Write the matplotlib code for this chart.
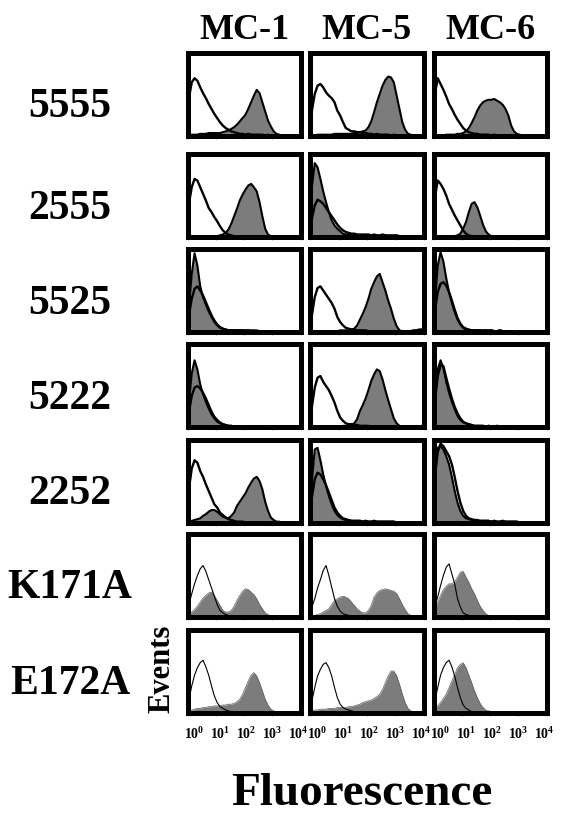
import matplotlib
matplotlib.use("Agg")
import matplotlib.pyplot as plt
import matplotlib.ticker as mticker
from matplotlib.transforms import ScaledTranslation
import numpy as np

# --- Data ---
# Histogram heights in % of the panel height, 40 bins of 0.1 decade (10^0 .. 10^4)
mutants = ['5555', '2555', '5525', '5222', '2252', 'K171A', 'E172A']
antibodies = ['MC-1', 'MC-5', 'MC-6']
decade_ticks = [1, 10, 100, 1000, 10000]
decade_labels = [r'$10^{0}$', r'$10^{1}$', r'$10^{2}$', r'$10^{3}$', r'$10^{4}$']

# open (control) histograms, one list per antibody
open_5555 = [
    [45, 64, 69, 66, 58, 51, 45, 38, 32, 26, 21, 16, 12, 9, 7, 5, 4, 3, 2, 2, 1, 2, 1, 1, 1, 1, 1, 0, 1, 0, 0, 0, 0, 0, 0, 0, 0, 0, 0, 0],
    [30, 50, 60, 62, 58, 52, 48, 45, 40, 30, 24, 16, 9, 7, 5, 5, 4, 4, 3, 3, 2, 2, 1, 2, 1, 1, 1, 1, 0, 1, 0, 0, 0, 0, 0, 0, 0, 0, 0, 0],
    [50, 69, 62, 55, 47, 38, 32, 25, 19, 14, 9, 6, 4, 3, 2, 2, 1, 1, 1, 1, 0, 1, 0, 0, 0, 0, 0, 0, 0, 0, 0, 0, 0, 0, 0, 0, 0, 0, 0, 0],
]
open_2555 = [
    [40, 60, 70, 68, 60, 52, 44, 35, 30, 24, 19, 13, 8, 5, 3, 2, 1, 1, 0, 0, 0, 0, 0, 0, 0, 0, 0, 0, 0, 0, 0, 0, 0, 0, 0, 0, 0, 0, 0, 0],
    [22, 38, 45, 43, 40, 35, 30, 25, 20, 15, 11, 8, 6, 5, 4, 4, 3, 3, 3, 3, 3, 2, 3, 2, 2, 3, 2, 2, 2, 2, 2, 1, 1, 0, 0, 0, 0, 0, 0, 0],
    [48, 68, 64, 58, 50, 40, 33, 26, 20, 14, 8, 4, 2, 1, 1, 0, 0, 0, 0, 0, 0, 0, 0, 0, 0, 0, 0, 0, 0, 0, 0, 0, 0, 0, 0, 0, 0, 0, 0, 0],
]
open_5525 = [
    [20, 40, 52, 55, 50, 44, 36, 28, 20, 14, 9, 6, 4, 3, 2, 2, 2, 2, 2, 2, 2, 2, 1, 2, 1, 1, 1, 1, 0, 0, 0, 0, 0, 0, 0, 0, 0, 0, 0, 0],
    [20, 42, 53, 55, 50, 45, 40, 35, 28, 18, 12, 8, 5, 4, 3, 3, 2, 2, 2, 2, 1, 1, 1, 1, 1, 1, 1, 1, 1, 1, 1, 1, 1, 1, 1, 1, 2, 2, 3, 3],
    [25, 48, 58, 60, 56, 48, 38, 27, 17, 10, 6, 4, 3, 2, 2, 2, 2, 2, 2, 2, 2, 1, 1, 2, 1, 1, 1, 1, 1, 1, 0, 0, 0, 0, 0, 0, 0, 0, 0, 0],
]
open_5222 = [
    [18, 38, 48, 50, 47, 42, 35, 27, 19, 13, 9, 6, 4, 3, 2, 2, 1, 1, 1, 1, 1, 1, 1, 1, 1, 1, 1, 1, 0, 0, 0, 0, 0, 0, 0, 0, 0, 0, 0, 0],
    [25, 48, 60, 62, 55, 50, 45, 38, 30, 20, 12, 8, 5, 4, 4, 3, 3, 2, 2, 2, 2, 1, 1, 1, 1, 1, 1, 1, 1, 1, 1, 1, 1, 1, 1, 1, 1, 1, 1, 2],
    [30, 62, 75, 74, 60, 47, 35, 25, 17, 11, 7, 5, 4, 3, 2, 2, 2, 2, 1, 2, 1, 1, 2, 1, 1, 1, 1, 1, 1, 1, 0, 0, 0, 0, 0, 0, 0, 0, 0, 0],
]
open_2252 = [
    [40, 65, 75, 72, 62, 55, 46, 38, 30, 22, 18, 12, 9, 6, 4, 3, 2, 1, 1, 1, 0, 0, 0, 0, 0, 0, 0, 0, 0, 0, 0, 0, 0, 0, 0, 0, 0, 0, 0, 0],
    [30, 52, 60, 58, 52, 45, 36, 27, 18, 12, 8, 5, 4, 3, 2, 2, 2, 2, 1, 2, 1, 1, 2, 1, 1, 1, 1, 1, 1, 1, 0, 0, 0, 0, 0, 0, 0, 0, 0, 0],
    [55, 85, 95, 92, 86, 80, 70, 55, 38, 24, 14, 8, 5, 4, 3, 3, 2, 2, 2, 2, 1, 2, 1, 1, 2, 1, 1, 1, 1, 1, 0, 0, 0, 0, 0, 0, 0, 0, 0, 0],
]
open_K171A = [
    [15, 28, 40, 50, 58, 62, 55, 45, 35, 25, 15, 8, 5, 3, 2, 1, 1, 0, 0, 0, 0, 0, 0, 0, 0, 0, 0, 0, 0, 0, 0, 0, 0, 0, 0, 0, 0, 0, 0, 0],
    [12, 22, 35, 45, 56, 62, 50, 36, 22, 13, 7, 4, 3, 2, 1, 1, 1, 1, 1, 1, 1, 1, 1, 1, 0, 0, 0, 0, 0, 0, 0, 0, 0, 0, 0, 0, 0, 0, 0, 0],
    [14, 24, 38, 50, 60, 64, 52, 40, 22, 12, 5, 3, 2, 1, 0, 0, 0, 0, 0, 0, 0, 0, 0, 0, 0, 0, 0, 0, 0, 0, 0, 0, 0, 0, 0, 0, 0, 0, 0, 0],
]
open_E172A = [
    [15, 32, 45, 54, 60, 63, 55, 45, 32, 20, 12, 7, 5, 3, 2, 1, 1, 0, 0, 0, 0, 0, 0, 0, 0, 0, 0, 0, 0, 0, 0, 0, 0, 0, 0, 0, 0, 0, 0, 0],
    [14, 30, 44, 52, 58, 60, 54, 44, 30, 18, 10, 6, 4, 3, 2, 1, 1, 1, 0, 0, 0, 0, 0, 0, 0, 0, 0, 0, 0, 0, 0, 0, 0, 0, 0, 0, 0, 0, 0, 0],
    [15, 30, 45, 54, 60, 63, 55, 44, 30, 18, 9, 5, 3, 1, 1, 0, 0, 0, 0, 0, 0, 0, 0, 0, 0, 0, 0, 0, 0, 0, 0, 0, 0, 0, 0, 0, 0, 0, 0, 0],
]

# stained (grey filled) histograms
stain_5555 = [
    [0, 1, 1, 1, 2, 2, 2, 3, 3, 3, 3, 3, 4, 5, 6, 8, 10, 13, 17, 21, 25, 32, 40, 48, 55, 51, 40, 29, 18, 11, 5, 2, 1, 0, 0, 0, 0, 0, 0, 0],
    [0, 0, 1, 1, 1, 1, 1, 1, 2, 2, 2, 2, 2, 2, 2, 3, 3, 4, 5, 6, 10, 17, 28, 40, 50, 60, 67, 71, 70, 64, 48, 32, 16, 7, 2, 1, 0, 0, 0, 0],
    [0, 0, 0, 0, 1, 1, 1, 1, 2, 2, 3, 5, 9, 15, 22, 30, 36, 40, 42, 43, 43, 44, 42, 40, 37, 32, 24, 12, 5, 2, 1, 0, 0, 0, 0, 0, 0, 0, 0, 0],
]
stain_2555 = [
    [0, 0, 0, 0, 0, 0, 1, 1, 1, 1, 1, 2, 3, 5, 9, 16, 25, 34, 44, 51, 57, 62, 64, 60, 55, 42, 25, 10, 3, 1, 0, 0, 0, 0, 0, 0, 0, 0, 0, 0],
    [60, 89, 84, 70, 55, 42, 30, 20, 14, 10, 7, 4, 3, 3, 2, 2, 2, 2, 2, 1, 2, 1, 2, 2, 1, 1, 2, 1, 1, 1, 1, 0, 0, 0, 0, 0, 0, 0, 0, 0],
    [0, 0, 0, 0, 0, 0, 1, 1, 2, 4, 10, 18, 30, 40, 42, 36, 26, 15, 7, 3, 1, 1, 0, 0, 0, 0, 0, 0, 0, 0, 0, 0, 0, 0, 0, 0, 0, 0, 0, 0],
]
stain_5525 = [
    [30, 70, 95, 80, 55, 42, 33, 25, 18, 12, 8, 5, 4, 3, 2, 2, 2, 2, 2, 2, 1, 2, 2, 1, 2, 1, 1, 1, 1, 0, 0, 0, 0, 0, 0, 0, 0, 0, 0, 0],
    [0, 0, 0, 0, 0, 1, 1, 1, 1, 1, 2, 2, 2, 2, 3, 4, 8, 15, 22, 30, 40, 52, 60, 67, 70, 60, 50, 38, 28, 16, 7, 2, 1, 0, 0, 0, 0, 0, 0, 0],
    [35, 80, 96, 85, 65, 48, 35, 24, 15, 9, 5, 3, 2, 2, 2, 2, 2, 1, 2, 1, 2, 1, 1, 2, 1, 1, 1, 1, 1, 1, 0, 0, 0, 0, 0, 0, 0, 0, 0, 0],
]
stain_5222 = [
    [30, 65, 81, 70, 52, 40, 31, 23, 16, 11, 7, 5, 4, 3, 2, 2, 1, 1, 1, 1, 1, 1, 1, 1, 1, 1, 1, 1, 1, 0, 0, 0, 0, 0, 0, 0, 0, 0, 0, 0],
    [0, 0, 0, 0, 0, 1, 1, 1, 1, 1, 1, 2, 2, 2, 3, 5, 10, 20, 27, 35, 45, 56, 64, 70, 68, 58, 45, 33, 22, 11, 5, 2, 1, 0, 0, 0, 0, 0, 0, 0],
    [35, 70, 81, 72, 55, 42, 31, 22, 14, 9, 6, 5, 4, 3, 2, 2, 2, 2, 1, 2, 1, 1, 2, 1, 1, 1, 1, 1, 1, 1, 0, 0, 0, 0, 0, 0, 0, 0, 0, 0],
]
stain_2252 = [
    [1, 2, 3, 4, 5, 8, 10, 13, 15, 15, 13, 10, 7, 6, 5, 8, 12, 20, 25, 30, 35, 42, 48, 53, 55, 50, 40, 25, 14, 6, 3, 1, 1, 0, 0, 0, 0, 0, 0, 0],
    [50, 88, 90, 75, 58, 44, 32, 22, 14, 9, 6, 4, 3, 3, 2, 2, 2, 2, 1, 2, 1, 1, 2, 1, 1, 1, 1, 1, 1, 1, 0, 0, 0, 0, 0, 0, 0, 0, 0, 0],
    [60, 90, 92, 88, 80, 70, 55, 38, 24, 14, 8, 5, 4, 3, 3, 2, 2, 2, 2, 2, 1, 2, 1, 1, 2, 1, 1, 1, 1, 1, 0, 0, 0, 0, 0, 0, 0, 0, 0, 0],
]
stain_K171A = [
    [3, 6, 9, 13, 18, 23, 26, 29, 30, 26, 20, 14, 8, 6, 6, 8, 13, 20, 26, 31, 34, 33, 30, 27, 22, 15, 10, 5, 3, 1, 1, 1, 1, 1, 1, 1, 1, 1, 1, 1],
    [1, 2, 3, 4, 6, 8, 10, 15, 20, 22, 24, 25, 24, 22, 18, 14, 10, 7, 5, 5, 8, 14, 24, 29, 32, 33, 34, 33, 32, 31, 28, 22, 15, 9, 4, 2, 1, 0, 0, 0],
    [10, 18, 26, 33, 37, 40, 40, 42, 48, 54, 55, 48, 42, 34, 28, 20, 13, 8, 4, 2, 1, 1, 0, 0, 0, 0, 0, 0, 0, 0, 0, 0, 0, 0, 0, 0, 0, 0, 0, 0],
]
stain_E172A = [
    [2, 3, 4, 5, 5, 6, 6, 7, 7, 8, 8, 8, 9, 9, 10, 10, 11, 13, 16, 22, 30, 38, 45, 48, 44, 36, 26, 16, 9, 4, 2, 1, 1, 0, 0, 0, 0, 0, 0, 0],
    [2, 3, 3, 4, 4, 4, 5, 5, 5, 6, 6, 6, 6, 7, 7, 8, 9, 10, 12, 13, 14, 15, 17, 19, 22, 28, 36, 44, 50, 50, 44, 34, 22, 12, 5, 2, 1, 0, 0, 0],
    [5, 8, 12, 17, 22, 30, 38, 46, 54, 58, 60, 54, 45, 36, 26, 18, 11, 6, 3, 2, 1, 1, 0, 0, 0, 0, 0, 0, 0, 0, 0, 0, 0, 0, 0, 0, 0, 0, 0, 0],
]

open_rows = [open_5555, open_2555, open_5525, open_5222, open_2252, open_K171A, open_E172A]
stain_rows = [stain_5555, stain_2555, stain_5525, stain_5222, stain_2252, stain_K171A, stain_E172A]

# --- Layout (pixels of the 564x814 figure) ---
W, H = 564, 814
col_left = [187.5, 310.5, 433.5]
row_top = [52.5, 154, 249, 344.5, 439.5, 534, 629.5]
panel_w, panel_h = 113, 83
label_shift_px = [7, 4, 2, 0, -2]  # decade labels sit a bit right of their ticks
GREY = '#7c7c7c'

plt.rcParams['font.family'] = ['Liberation Serif', 'DejaVu Serif']
plt.rcParams['font.weight'] = 'bold'
plt.rcParams['mathtext.fontset'] = 'custom'
plt.rcParams['mathtext.rm'] = 'Liberation Serif:bold'
plt.rcParams['mathtext.it'] = 'Liberation Serif:bold'
plt.rcParams['mathtext.bf'] = 'Liberation Serif:bold'

fig = plt.figure(figsize=(W / 100, H / 100), dpi=100)
fig.patch.set_facecolor('white')

# bin edges and centres on the log axis
edges = np.logspace(0, 4, 41)
centres = np.sqrt(edges[:-1] * edges[1:])
xs = np.concatenate([[edges[0]], centres, [edges[-1]]])


def trace(vals):
    """Histogram as a polyline that starts and ends on the baseline."""
    return np.concatenate([[0], vals, [0]])


for r, mutant in enumerate(mutants):
    thick = r < 5  # the last two rows were plotted with thin lines
    for c, ab in enumerate(antibodies):
        ax = fig.add_axes([col_left[c] / W, 1 - (row_top[r] + panel_h) / H,
                           panel_w / W, panel_h / H])
        stain = trace(stain_rows[r][c])
        ctrl = trace(open_rows[r][c])
        ax.fill_between(xs, 0, stain, color=GREY, lw=0, zorder=1)
        if thick:
            ax.plot(xs, stain, color='black', lw=1.5, zorder=2)
            ax.plot(xs, ctrl, color='black', lw=1.7, zorder=3)
        else:
            ax.plot(xs, stain, color='#5a5a5a', lw=0.5, zorder=2)
            ax.plot(xs, ctrl, color='black', lw=0.8, zorder=3)

        ax.set_xscale('log')
        ax.set_xlim(1, 1e4)
        ax.set_ylim(0, 100)
        ax.set_yticks([])
        ax.xaxis.set_major_locator(mticker.FixedLocator(decade_ticks))
        ax.xaxis.set_minor_locator(mticker.NullLocator())
        ax.tick_params(axis='x', direction='out', length=2.5, width=0.8,
                       color='#999999', pad=7)
        for sp in ax.spines.values():
            sp.set_linewidth(3.6)
            sp.set_zorder(5)

        if r == len(mutants) - 1:
            ax.set_xticklabels(decade_labels, fontsize=10)
            for lab, dx in zip(ax.get_xticklabels(), label_shift_px):
                lab.set_transform(lab.get_transform() +
                                  ScaledTranslation(dx / 100, 0, fig.dpi_scale_trans))
        else:
            ax.set_xticklabels([])

        if r == 0:
            ax.set_title(ab, fontsize=26, fontweight='bold', pad=10)

    # row label, sitting a little below the middle of the row
    yc = row_top[r] + panel_h / 2 + 13
    fig.text(70 / W, 1 - yc / H, mutant, ha='center', va='center',
             fontsize=30, fontweight='bold')

fig.text(162 / W, 1 - 669 / H, 'Events', rotation=90, ha='center',
         va='center', fontsize=22, fontweight='bold')
fig.text(362 / W, 1 - 794 / H, 'Fluorescence', ha='center', va='center',
         fontsize=34, fontweight='bold')

fig.savefig('out.png', dpi=100, facecolor='white')
